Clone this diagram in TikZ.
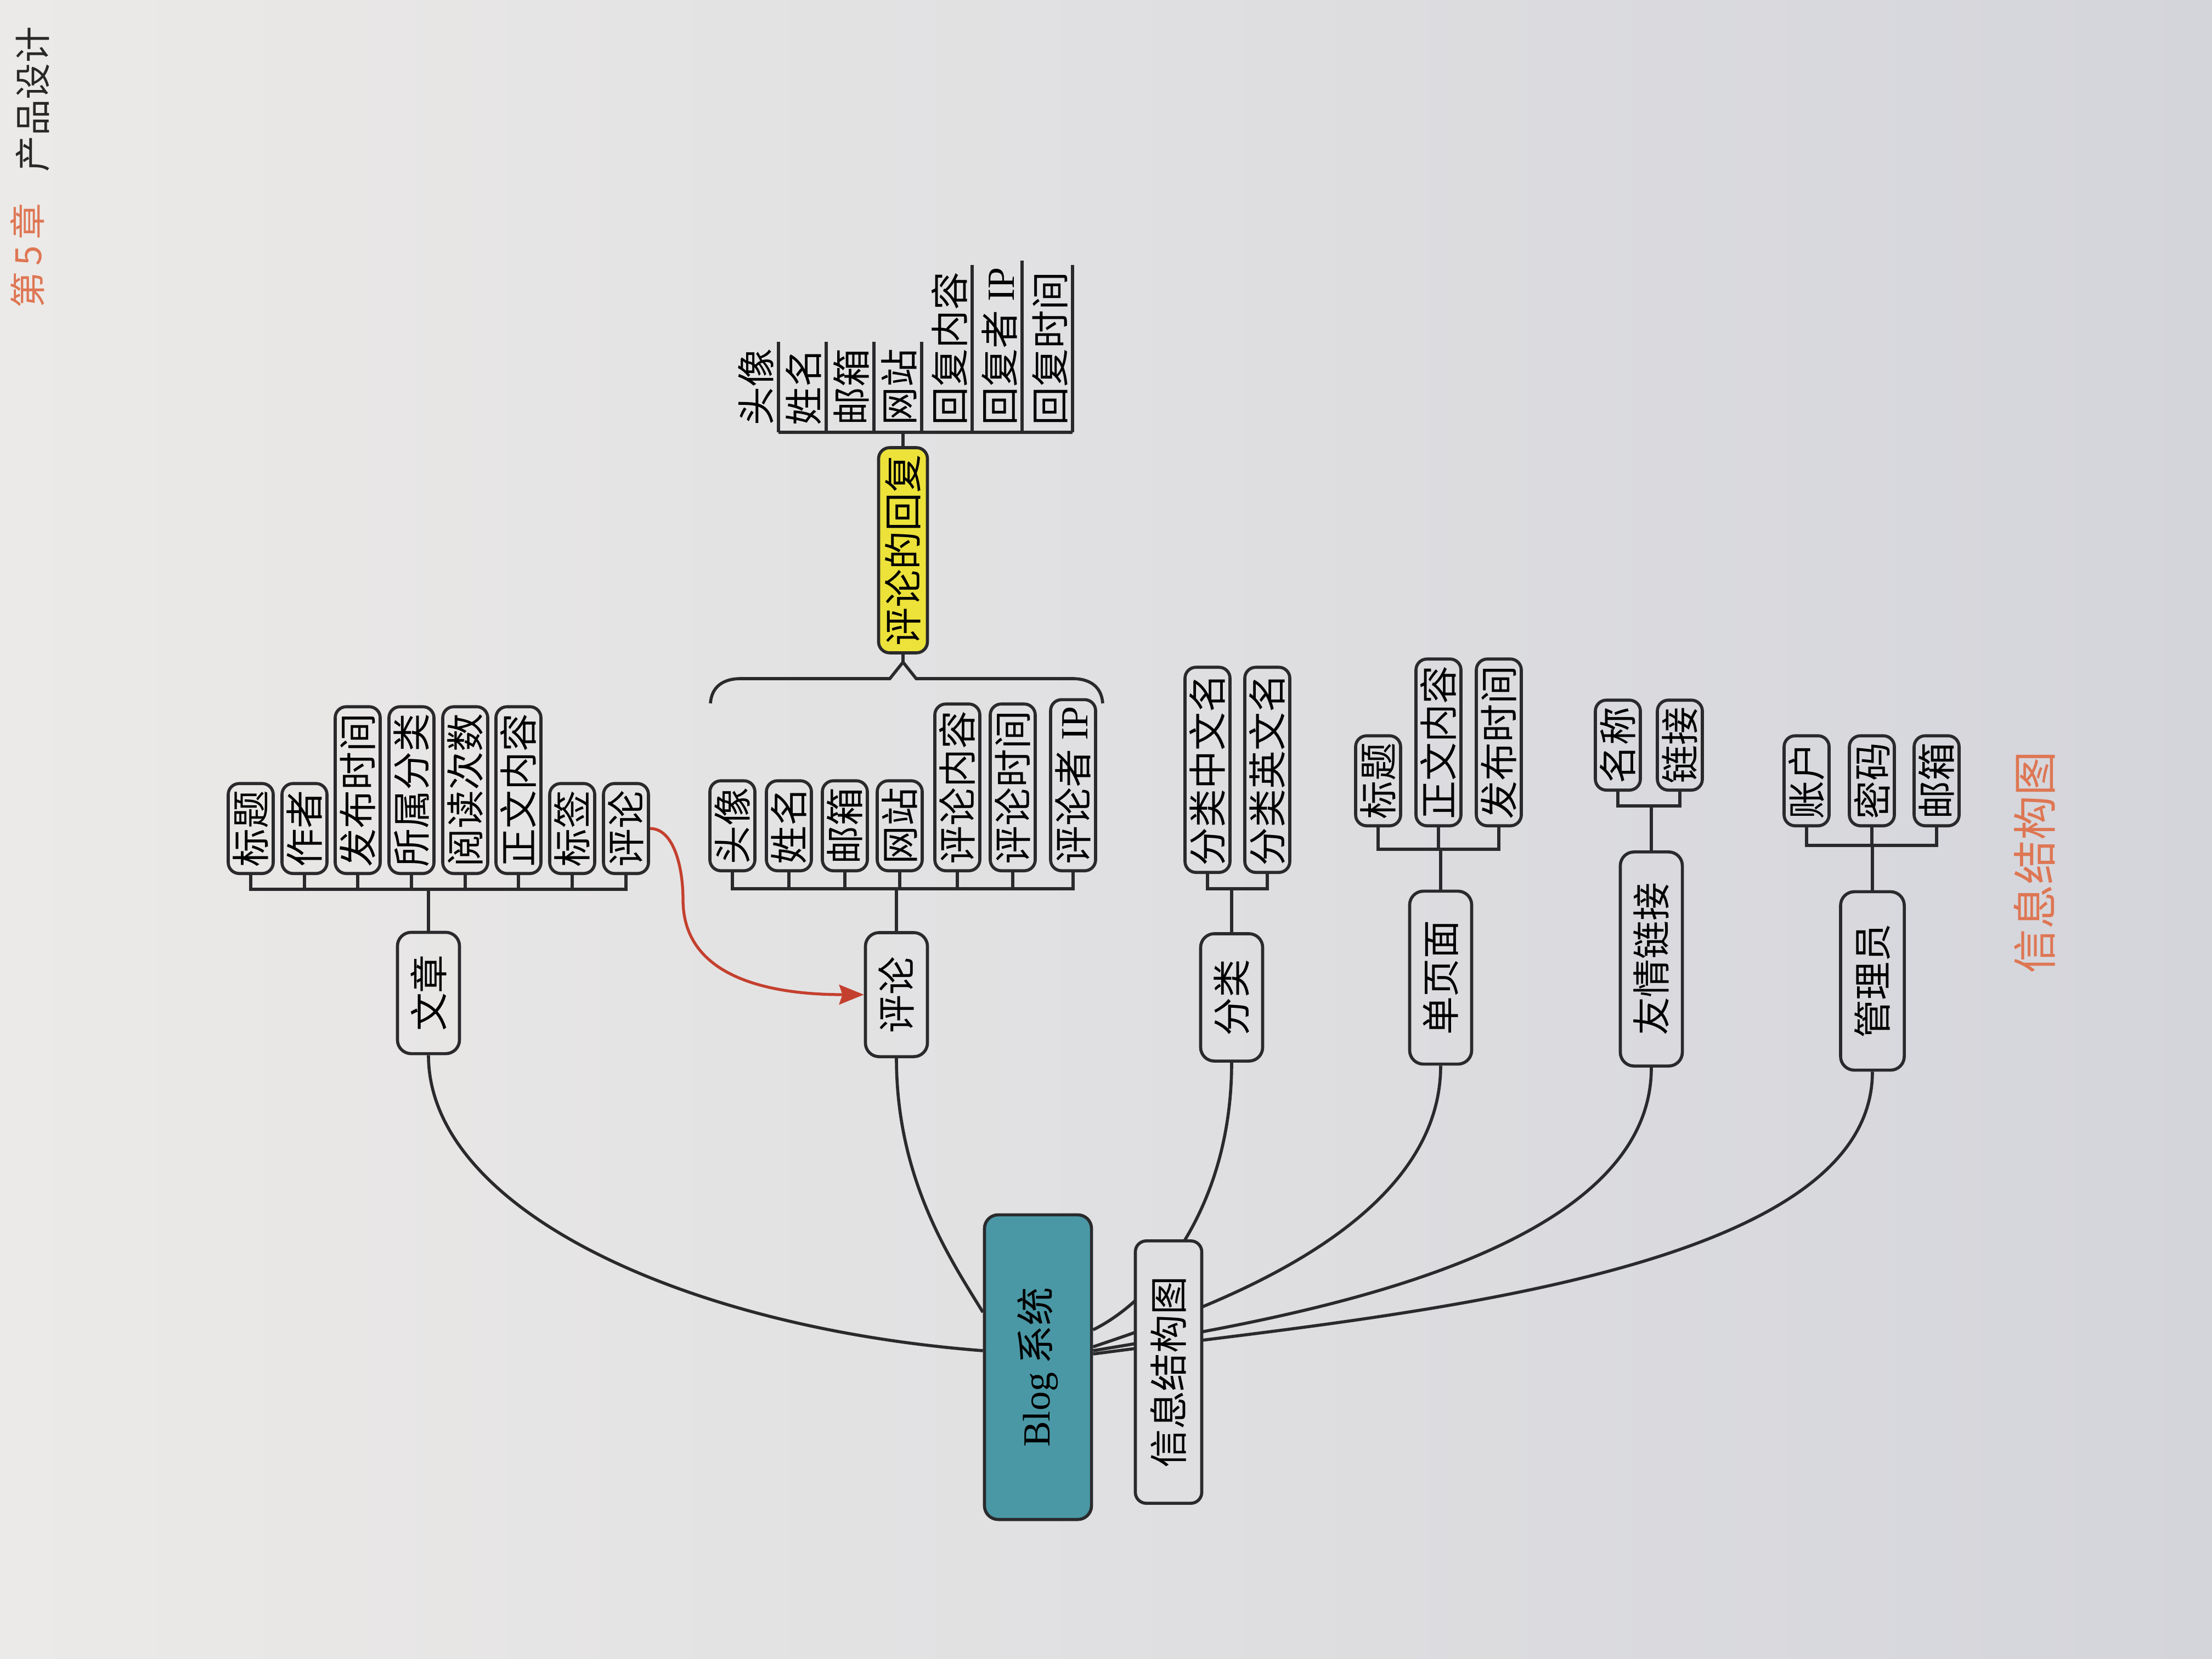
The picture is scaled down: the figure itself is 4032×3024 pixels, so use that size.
\documentclass[tikz,border=0pt]{standalone}
\usepackage{fontspec}
\setmainfont{Liberation Serif}
\newfontfamily\zhfont{Noto Sans CJK SC}
\usetikzlibrary{calc,arrows.meta}
\definecolor{linec}{RGB}{42,42,44}
\definecolor{tealc}{RGB}{74,152,166}
\definecolor{yelc}{RGB}{236,226,58}
\definecolor{orangec}{RGB}{222,118,84}
\definecolor{redc}{RGB}{196,64,46}
\definecolor{hdrc}{RGB}{40,40,40}
\definecolor{pageL}{RGB}{236,234,232}
\definecolor{pageR}{RGB}{212,213,219}
\colorlet{pagec}{pageL!47!pageR}
\newcommand\zhsize{\zhfont\fontsize{19.9pt}{22pt}\selectfont}
\newcommand\hdrsize{\zhfont\fontsize{18.8pt}{20pt}\selectfont}
\newcommand\capsize{\zhfont\fontsize{23pt}{25pt}\selectfont}
\begin{document}
\begin{tikzpicture}[x=0.01cm,y=-0.01cm,
  conn/.style={draw=linec,line width=1.6pt},
  boxbase/.style={rotate=90,draw=linec,line width=1.6pt,rounded corners=0.2cm,font=\zhsize,inner ysep=0pt,text=black},
  kid/.style={boxbase,minimum height=0.82cm,inner xsep=0.12cm,anchor=west},
  mainbox/.style={boxbase,minimum height=1.13cm,inner xsep=0.1cm,rounded corners=0.25cm},
  replyitem/.style={rotate=90,font=\zhsize,inner xsep=0.12cm,inner ysep=0.08cm,anchor=south west},
  redarrow/.style={draw=redc,line width=1.5pt,-{Stealth[length=0.45cm,width=0.36cm,inset=0.06cm]}}
]
\shade[left color=pageL,right color=pageR] (0,0) rectangle (4032,3024);
\useasboundingbox (0,0) rectangle (4032,3024);

% header
\node[rotate=90,text=hdrc,font=\hdrsize] (hd2) at (60,181) {产品设计};
\node[rotate=90,text=orangec,font=\hdrsize] (hd1) at (50,466) {第\,5\,章};

% ===== 文章 cluster =====
\node[mainbox,minimum width=2.21cm] (wz) at (781,1810) {文章};
\node[kid] (wz1) at (457,1595) {标题};
\node[kid] (wz2) at (555,1595) {作者};
\node[kid] (wz3) at (652,1595) {发布时间};
\node[kid] (wz4) at (750,1595) {所属分类};
\node[kid] (wz5) at (848,1595) {阅读次数};
\node[kid] (wz6) at (945,1595) {正文内容};
\node[kid] (wz7) at (1043,1595) {标签};
\node[kid] (wz8) at (1141,1595) {评论};
\coordinate (wzb) at (0,1621);
\draw[conn] (wz1.west) |- (wz8.west |- wzb) -- (wz8.west);
\foreach \i in {2,...,7} \draw[conn] (wz\i.west) -- (wz\i.west |- wzb);
\draw[conn] (wz.east) -- (wz.east |- wzb);

% ===== 评论 cluster =====
\node[mainbox,minimum width=2.26cm] (pl) at (1634,1813) {评论};
\begin{scope}[every node/.append style={minimum height=0.84cm}]
\node[kid] (pl1) at (1335,1590) {头像};
\node[kid] (pl2) at (1438,1590) {姓名};
\node[kid] (pl3) at (1540,1590) {邮箱};
\node[kid] (pl4) at (1640,1590) {网站};
\node[kid] (pl5) at (1745,1590) {评论内容};
\node[kid] (pl6) at (1846,1590) {评论时间};
\node[kid] (pl7) at (1956,1590) {评论者 {\rmfamily IP}};
\end{scope}
\coordinate (plb) at (0,1620);
\draw[conn] (pl1.west) |- (pl7.west |- plb) -- (pl7.west);
\foreach \i in {2,...,6} \draw[conn] (pl\i.west) -- (pl\i.west |- plb);
\draw[conn] (pl.east) -- (pl.east |- plb);

% ===== reply =====
\node[boxbase,fill=yelc,minimum height=0.89cm,inner xsep=0.12cm] (rp) at (1646,1003) {评论的回复};
\coordinate (bt) at (1646,1207);
\draw[conn] (rp.west) -- (bt);
\draw[conn,line join=miter] (1295,1282) .. controls (1297,1252) and (1318,1237) .. (1350,1237) -- (1622,1237) -- (bt) -- (1670,1237) -- (1955,1237) .. controls (1987,1237) and (2008,1252) .. (2010,1282);
\node[replyitem] (r1) at (1419,788) {头像};
\node[replyitem] (r2) at (1506,788) {姓名};
\node[replyitem] (r3) at (1593,788) {邮箱};
\node[replyitem] (r4) at (1680,788) {网站};
\node[replyitem] (r5) at (1772,788) {回复内容};
\node[replyitem] (r6) at (1863,788) {回复者 {\rmfamily IP}};
\node[replyitem] (r7) at (1955,788) {回复时间};
\draw[conn] (r1.south west) -- (r7.south west);
\foreach \i in {1,...,7} \draw[conn] (r\i.south west) -- (r\i.south east);
\draw[conn] (rp.east) -- (rp.east |- r1.south west);

% red arrow
\coordinate (rbend) at (1245,1640);
\draw[redarrow] (wz8.south) .. controls +(43,0) and +(0,-60) .. (rbend) .. controls +(0,140) and +(-176,0) .. (pl.north);

% ===== 分类 =====
\node[mainbox,minimum width=2.32cm] (fl) at (2245,1818) {分类};
\begin{scope}[every node/.append style={minimum height=0.87cm,inner xsep=0.17cm}]
\node[kid] (fl1) at (2201,1593) {分类中文名};
\node[kid] (fl2) at (2310,1593) {分类英文名};
\end{scope}
\coordinate (flb) at (0,1620);
\draw[conn] (fl1.west) |- (fl2.west |- flb) -- (fl2.west);
\draw[conn] (fl.east) -- (fl.east |- flb);

% ===== 单页面 =====
\node[mainbox,minimum width=3.15cm] (dy) at (2626,1782) {单页面};
\begin{scope}[every node/.append style={minimum height=0.88cm,inner xsep=0.15cm}]
\node[kid] (dy1) at (2512,1508) {标题};
\node[kid] (dy2) at (2622,1508) {正文内容};
\node[kid] (dy3) at (2732,1508) {发布时间};
\end{scope}
\coordinate (dyb) at (0,1548);
\draw[conn] (dy1.west) |- (dy3.west |- dyb) -- (dy3.west);
\draw[conn] (dy2.west) -- (dy2.west |- dyb);
\draw[conn] (dy.east) -- (dy.east |- dyb);

% ===== 友情链接 =====
\node[mainbox,minimum width=3.90cm] (yq) at (3010,1748) {友情链接};
\begin{scope}[every node/.append style={minimum height=0.88cm,inner xsep=0.18cm}]
\node[kid] (yq1) at (2949,1443) {名称};
\node[kid] (yq2) at (3062,1443) {链接};
\end{scope}
\coordinate (yqb) at (0,1469);
\draw[conn] (yq1.west) |- (yq2.west |- yqb) -- (yq2.west);
\draw[conn] (yq.east) -- (yq.east |- yqb);

% ===== 管理员 =====
\node[mainbox,minimum width=3.25cm,minimum height=1.16cm] (gl) at (3413,1788) {管理员};
\begin{scope}[every node/.append style={minimum height=0.95cm,inner xsep=0.18cm}]
\node[kid] (gl1) at (3293,1508) {账户};
\node[kid] (gl2) at (3412,1508) {密码};
\node[kid] (gl3) at (3530,1508) {邮箱};
\end{scope}
\coordinate (glb) at (0,1541);
\draw[conn] (gl1.west) |- (gl3.west |- glb) -- (gl3.west);
\draw[conn] (gl2.west) -- (gl2.west |- glb);
\draw[conn] (gl.east) -- (gl.east |- glb);

% ===== root =====
\node[boxbase,fill=tealc,minimum width=5.55cm,minimum height=1.95cm,rounded corners=0.25cm] (blog) at (1892,2492) {{\rmfamily Blog} 系统};

\draw[conn] (wz.west) .. controls +(0,280) and +(-546,-42) .. ($(blog.north)+(0,-30)$);
\draw[conn] (pl.west) .. controls +(0,224) and +(-56,-92) .. ($(blog.north)+(0,-100)$);
\draw[conn] ($(blog.south)+(0,-68)$) .. controls +(110,-54) and +(0,266) .. (fl.west);
\draw[conn] ($(blog.south)+(0,-37)$) .. controls +(160,-55) and +(0,310) .. (dy.west);
\draw[conn] ($(blog.south)+(0,-30)$) .. controls +(310,-52) and +(0,357) .. (yq.west);
\draw[conn] ($(blog.south)+(0,-24)$) .. controls +(510,-68) and +(0,378) .. (gl.west);

\node[boxbase,fill=pagec,minimum width=4.78cm,minimum height=1.21cm] (xx) at (2130,2501) {信息结构图};

% caption
\node[rotate=90,text=orangec,font=\capsize] (cap) at (3708,1572) {信息结构图};
\end{tikzpicture}
\end{document}
